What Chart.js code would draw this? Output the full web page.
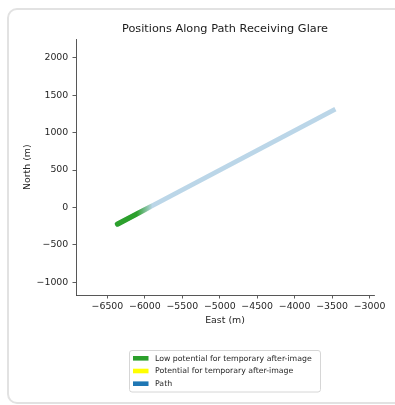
<!DOCTYPE html>
<html>
<head>
<meta charset="utf-8">
<script src="https://cdn.jsdelivr.net/npm/chart.js@4/dist/chart.umd.min.js"></script>
<style>
  html, body { margin: 0; padding: 0; background: #fff; overflow: hidden; }
  #wrap { position: relative; width: 395px; height: 405px; }
  #card { position: absolute; left: 7px; top: 8px; width: 420px; height: 396px;
          border: 2px solid #e2e2e2; border-radius: 10px; box-sizing: border-box; }
  #c { position: absolute; left: 0; top: 0; }
</style>
</head>
<body>
<div id="wrap">
  <div id="card"></div>
  <canvas id="c" width="395" height="405"></canvas>
</div>
<script>
// ---- data ----
const chartTitle = 'Positions Along Path Receiving Glare';
const xAxisLabel = 'East (m)';
const yAxisLabel = 'North (m)';
const seriesLabels = ['Low potential for temporary after-image', 'Potential for temporary after-image', 'Path'];
const lowPotentialEast  = [-6366, -5900];
const lowPotentialNorth = [-223, 23];
const potentialEast  = [];
const potentialNorth = [];
const pathEast  = [-6366, -3483];
const pathNorth = [-223, 1300];
const xTickValues = [-6500, -6000, -5500, -5000, -4500, -4000, -3500, -3000];
const yTickValues = [-1000, -500, 0, 500, 1000, 1500, 2000];
const xRange = [-6920, -2940];
const yRange = [-1170, 2245];

const FONT = 'DejaVu Sans';
const GREEN = '#2ca02c', YELLOW = '#ffff00', BLUE = '#1f77b4';

function pts(xs, ys) { return xs.map((x, i) => ({x: x, y: ys[i]})); }
function fmt(v) { return String(v).replace('-', '\u2212'); }

function greenGradient(ctx) {
  const chart = ctx.chart;
  if (!chart.chartArea) return GREEN;
  const xs = chart.scales.x;
  const x0 = xs.getPixelForValue(lowPotentialEast[0]);
  const x1 = xs.getPixelForValue(lowPotentialEast[lowPotentialEast.length - 1]);
  const g = chart.ctx.createLinearGradient(x0, 0, x1, 0);
  g.addColorStop(0, 'rgba(44,160,44,1)');
  g.addColorStop(0.55, 'rgba(44,160,44,1)');
  g.addColorStop(0.8, 'rgba(44,160,44,0.45)');
  g.addColorStop(1, 'rgba(44,160,44,0)');
  return g;
}

const boxLegend = {
  id: 'boxLegend',
  afterDraw(chart) {
    const c = chart.ctx;
    const bx = 129.5, by = 350.5, bw = 191, bh = 41.5;
    c.save();
    c.beginPath();
    c.roundRect(bx, by, bw, bh, 2.5);
    c.fillStyle = 'rgba(255,255,255,0.8)';
    c.fill();
    c.strokeStyle = '#d6d6d6';
    c.lineWidth = 1;
    c.stroke();
    c.font = '7.8px "' + FONT + '"';
    c.textBaseline = 'middle';
    c.textAlign = 'left';
    chart.data.datasets.forEach((ds, i) => {
      const cy = 358.3 + i * 12.7;
      c.fillStyle = ds.backgroundColor;
      c.fillRect(133, cy - 2.3, 15.5, 4.6);
      c.fillStyle = '#262626';
      c.fillText(ds.label, 155, cy + 0.3);
    });
    c.restore();
  }
};

new Chart(document.getElementById('c'), {
  type: 'scatter',
  data: {
    datasets: [
      { label: seriesLabels[0], data: pts(lowPotentialEast, lowPotentialNorth), showLine: true,
        borderColor: greenGradient, backgroundColor: GREEN, borderWidth: 5.2,
        borderCapStyle: 'round', pointRadius: 0 },
      { label: seriesLabels[1], data: pts(potentialEast, potentialNorth), showLine: true,
        borderColor: YELLOW, backgroundColor: YELLOW, borderWidth: 5, pointRadius: 0 },
      { label: seriesLabels[2], data: pts(pathEast, pathNorth), showLine: true,
        borderColor: 'rgba(31,119,180,0.3)', backgroundColor: BLUE, borderWidth: 4.6,
        borderCapStyle: 'square', pointRadius: 0 }
    ]
  },
  options: {
    responsive: false,
    animation: false,
    devicePixelRatio: 1,
    layout: { padding: { left: 0, top: 0, right: 21, bottom: 78 } },
    plugins: {
      legend: { display: false },
      tooltip: { enabled: false },
      title: {
        display: true, text: chartTitle, fullSize: false, color: '#1a1a1a',
        font: { family: FONT, size: 11.3, weight: 'normal' },
        padding: { top: 22.3, bottom: 3.6 }
      }
    },
    scales: {
      x: {
        type: 'linear', min: xRange[0], max: xRange[1],
        afterBuildTicks: s => { s.ticks = xTickValues.map(v => ({value: v})); },
        afterFit: s => { s.height = 32; },
        ticks: { callback: v => fmt(v), color: '#262626', padding: 2.6,
                 font: { family: FONT, size: 9.4 }, maxRotation: 0, autoSkip: false },
        grid: { display: true, drawOnChartArea: false, drawTicks: true, tickLength: 3.5,
                color: '#333', lineWidth: 0.8 },
        border: { display: true, color: '#444', width: 0.9 },
        title: { display: true, text: xAxisLabel, color: '#262626',
                 font: { family: FONT, size: 9.4 }, padding: { top: 0, bottom: 0.4 } }
      },
      y: {
        type: 'linear', min: yRange[0], max: yRange[1],
        afterBuildTicks: s => { s.ticks = yTickValues.map(v => ({value: v})); },
        afterFit: s => { s.width = 76; },
        ticks: { callback: v => fmt(v), color: '#262626', padding: 4.2,
                 font: { family: FONT, size: 9.4 }, autoSkip: false },
        grid: { display: true, drawOnChartArea: false, drawTicks: true, tickLength: 3.5,
                color: '#333', lineWidth: 0.8 },
        border: { display: true, color: '#444', width: 0.9 },
        title: { display: true, text: yAxisLabel, color: '#262626',
                 font: { family: FONT, size: 9.4 }, padding: { top: 21.6, bottom: 0 } }
      }
    }
  },
  plugins: [boxLegend]
});
</script>
</body>
</html>
